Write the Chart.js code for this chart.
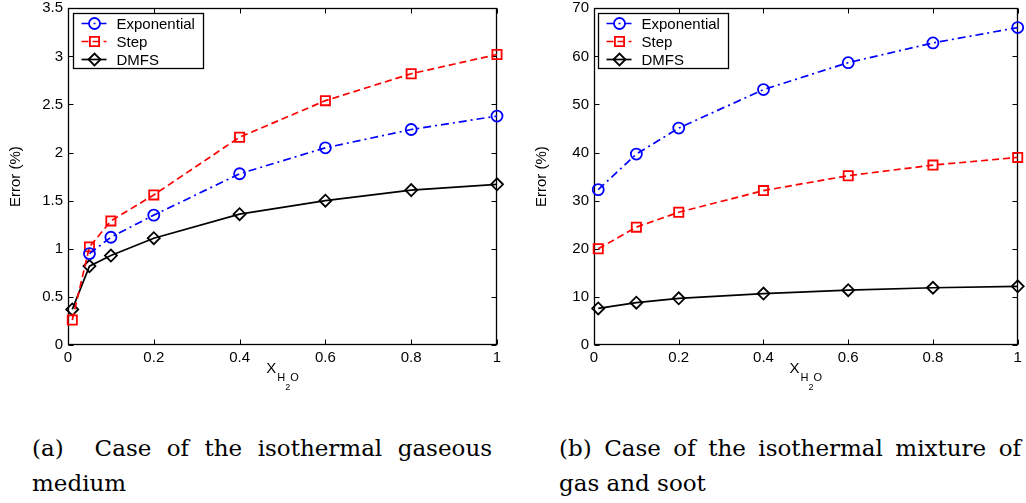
<!DOCTYPE html>
<html><head><meta charset="utf-8">
<script src="https://cdn.jsdelivr.net/npm/chart.js@4"></script>
<style>
html,body{margin:0;padding:0;background:#fff;width:1026px;height:503px;overflow:hidden;}
.wrap{position:absolute;top:0;}
.cap{position:absolute;width:460px;font-family:"DejaVu Serif","Liberation Serif",serif;font-size:23px;line-height:35px;color:#000;}
.cap .l1{text-align:justify;text-align-last:justify;}
</style></head>
<body>
<div class="wrap" style="left:0;width:515px;height:400px"><canvas id="c1" width="515" height="400"></canvas></div>
<div class="wrap" style="left:520px;width:506px;height:400px"><canvas id="c2" width="506" height="400"></canvas></div>
<div class="cap" style="left:32px;top:431px"><div class="l1">(a)&nbsp; Case of the isothermal gaseous</div><div>medium</div></div>
<div class="cap" style="left:559px;top:431px;width:462px"><div class="l1">(b) Case of the isothermal mixture of</div><div>gas and soot</div></div>
<script>
// ---- data ----
const xLeft = [0.01, 0.05, 0.1, 0.2, 0.4, 0.6, 0.8, 1];
const expLeft = [null, 0.95, 1.12, 1.35, 1.78, 2.05, 2.24, 2.38];
const stepLeft = [0.26, 1.02, 1.29, 1.56, 2.16, 2.54, 2.82, 3.02];
const dmfsLeft = [0.37, 0.82, 0.93, 1.11, 1.36, 1.50, 1.61, 1.67];

const xRight = [0.01, 0.1, 0.2, 0.4, 0.6, 0.8, 1];
const expRight = [32.3, 39.7, 45.1, 53.1, 58.7, 62.8, 66.0];
const stepRight = [20.0, 24.5, 27.6, 32.1, 35.2, 37.4, 39.0];
const dmfsRight = [7.6, 8.8, 9.7, 10.7, 11.4, 11.9, 12.2];

const seriesNames = ['Exponential', 'Step', 'DMFS'];
const yTitle = 'Error (%)';

const FONT = '"Liberation Sans", Arial, Helvetica, sans-serif';

function pts(xs, ys){ return xs.map((x,i)=>({x:x, y:ys[i]})).filter(p=>p.y!==null); }

const frameTicks = {
  id:'frameTicks',
  beforeDatasetsDraw(chart){
    const ctx=chart.ctx, a=chart.chartArea, L=5;
    ctx.save();
    ctx.strokeStyle='#000'; ctx.lineWidth=1;
    const l=Math.round(a.left)+0.5, r=Math.round(a.right)-0.5, t=Math.round(a.top)+0.5, b=Math.round(a.bottom)-0.5;
    ctx.beginPath();
    chart.scales.x.ticks.forEach(tk=>{
      const px=Math.round(chart.scales.x.getPixelForValue(tk.value))+0.5;
      ctx.moveTo(px,b); ctx.lineTo(px,b-L);
      ctx.moveTo(px,t); ctx.lineTo(px,t+L);
    });
    chart.scales.y.ticks.forEach(tk=>{
      const py=Math.round(chart.scales.y.getPixelForValue(tk.value))+0.5;
      ctx.moveTo(l,py); ctx.lineTo(l+L,py);
      ctx.moveTo(r,py); ctx.lineTo(r-L,py);
    });
    ctx.stroke();
    ctx.lineWidth=1.3;
    ctx.strokeRect(l,t,r-l,b-t);
    ctx.restore();
  }
};

const legendBox = {
  id:'legendBox',
  afterDraw(chart, args, opts){
    const ctx=chart.ctx, a=chart.chartArea;
    const x0=Math.round(a.left+opts.dx)+0.5, y0=Math.round(a.top+5)+0.5;
    ctx.save();
    ctx.font='15px '+FONT;
    const ds=chart.data.datasets;
    let maxW=0; ds.forEach(d=>{maxW=Math.max(maxW, ctx.measureText(d.label).width);});
    const w=Math.round(43+maxW+9), h=55;
    ctx.fillStyle='#fff'; ctx.fillRect(x0,y0,w,h);
    ctx.strokeStyle='#000'; ctx.lineWidth=1.3; ctx.strokeRect(x0,y0,w,h);
    ds.forEach((d,i)=>{
      const cy=y0+10+i*18;
      ctx.setLineDash(d.borderDash||[]); ctx.strokeStyle=d.borderColor; ctx.lineWidth=d.borderWidth;
      ctx.beginPath(); ctx.moveTo(x0+8,cy); ctx.lineTo(x0+33,cy); ctx.stroke();
      ctx.setLineDash([]);
      ctx.strokeStyle=d.borderColor; ctx.fillStyle='rgba(0,0,0,0)'; ctx.lineWidth=d.pointBorderWidth;
      Chart.helpers.drawPoint(ctx,{pointStyle:d.pointStyle, rotation:0, radius:d.pointRadius, borderWidth:d.pointBorderWidth}, x0+21, cy);
      ctx.fillStyle='#000'; ctx.textBaseline='middle'; ctx.textAlign='left';
      ctx.fillText(d.label, x0+43, cy+1);
    });
    ctx.restore();
  }
};

const axisTitles = {
  id:'axisTitles',
  afterDraw(chart, args, opts){
    const ctx=chart.ctx, a=chart.chartArea;
    ctx.save();
    ctx.fillStyle='#000';
    ctx.font='15px '+FONT;
    ctx.translate(a.left-opts.yOff, (a.top+a.bottom)/2);
    ctx.rotate(-Math.PI/2);
    ctx.textAlign='center'; ctx.textBaseline='middle';
    ctx.fillText(yTitle,0,0);
    ctx.setTransform(1,0,0,1,0,0);
    const parts=[['X',15,0],['H',11,8],['2',9,17],['O',11,8]];
    let tw=0;
    parts.forEach(p=>{ctx.font=p[1]+'px '+FONT; tw+=ctx.measureText(p[0]).width;});
    tw+=1;
    let x=(a.left+a.right)/2 - tw/2;
    const base=a.bottom+28;
    ctx.textAlign='left'; ctx.textBaseline='alphabetic';
    parts.forEach((p,i)=>{
      ctx.font=p[1]+'px '+FONT;
      ctx.fillText(p[0], x, base+p[2]);
      x+=ctx.measureText(p[0]).width + (i===0?1:0);
    });
    ctx.restore();
  }
};

function makeChart(id, xs, e, s, d, ymax, ystep, yWidth, padRight, legendDx, yOff){
  return new Chart(document.getElementById(id), {
    type:'line',
    data:{datasets:[
      {label:seriesNames[0], data:pts(xs,e), borderColor:'#0000ff', borderWidth:1.7, borderDash:[8,4,2,4],
       pointStyle:'circle', pointRadius:5.5, pointBorderWidth:1.8, pointBorderColor:'#0000ff', pointBackgroundColor:'rgba(0,0,0,0)', clip:false},
      {label:seriesNames[1], data:pts(xs,s), borderColor:'#ff0000', borderWidth:1.7, borderDash:[7,4],
       pointStyle:'rect', pointRadius:6.5, pointBorderWidth:1.8, pointBorderColor:'#ff0000', pointBackgroundColor:'rgba(0,0,0,0)', clip:false},
      {label:seriesNames[2], data:pts(xs,d), borderColor:'#000000', borderWidth:1.7,
       pointStyle:'rectRot', pointRadius:6, pointBorderWidth:1.8, pointBorderColor:'#000000', pointBackgroundColor:'rgba(0,0,0,0)', clip:false}
    ]},
    options:{
      responsive:false, animation:false, devicePixelRatio:1,
      layout:{padding:{top:7,right:padRight,bottom:0,left:0}},
      plugins:{legend:{display:false}, tooltip:{enabled:false},
        legendBox:{dx:legendDx}, axisTitles:{yOff:yOff}},
      scales:{
        x:{type:'linear', min:0, max:1,
           grid:{display:false, drawTicks:false}, border:{display:false},
           ticks:{stepSize:0.2, padding:6, color:'#000', font:{family:FONT,size:15,lineHeight:0.9},
                  maxRotation:0, callback:v=>String(+v.toFixed(2))},
           afterFit(sc){sc.height=55; sc.paddingLeft=0; sc.paddingRight=0;}},
        y:{type:'linear', min:0, max:ymax,
           grid:{display:false, drawTicks:false}, border:{display:false},
           ticks:{stepSize:ystep, padding:5, color:'#000', font:{family:FONT,size:15,lineHeight:0.9},
                  callback:v=>String(+v.toFixed(2))},
           afterFit(sc){sc.width=yWidth; sc.paddingTop=0; sc.paddingBottom=0;}}
      }
    },
    plugins:[frameTicks, legendBox, axisTitles]
  });
}

makeChart('c1', xLeft, expLeft, stepLeft, dmfsLeft, 3.5, 0.5, 68, 18, 5, 52);
makeChart('c2', xRight, expRight, stepRight, dmfsRight, 70, 10, 74, 4, 4, 52);
</script>
</body></html>
